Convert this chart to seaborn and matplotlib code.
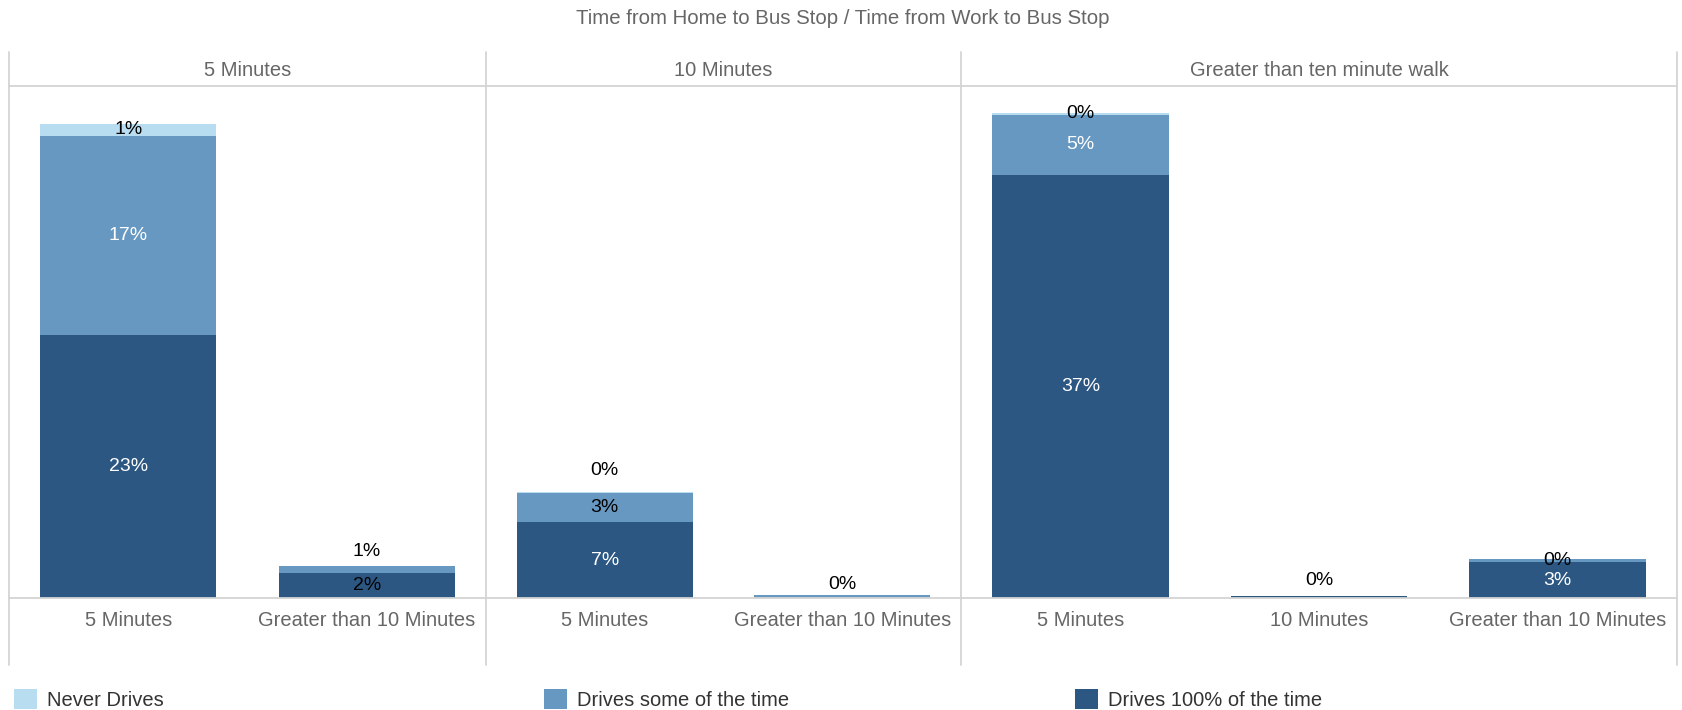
import pandas as pd
import seaborn as sns
import matplotlib.pyplot as plt
from matplotlib.lines import Line2D
from matplotlib.patches import Patch

# data (percent of all respondents)
panels = ["5 Minutes", "10 Minutes", "Greater than ten minute walk"]
panel_of_bar = ["5 Minutes", "5 Minutes", "10 Minutes", "10 Minutes",
                "Greater than ten minute walk", "Greater than ten minute walk",
                "Greater than ten minute walk"]
work_time = ["5 Minutes", "Greater than 10 Minutes", "5 Minutes", "Greater than 10 Minutes",
             "5 Minutes", "10 Minutes", "Greater than 10 Minutes"]
never_drives = [1.05, 0.0, 0.12, 0.0, 0.15, 0.0, 0.0]
drives_some = [17.35, 0.58, 2.53, 0.22, 5.3, 0.0, 0.32]
drives_always = [23.0, 2.2, 6.6, 0.0, 36.9, 0.15, 3.1]
series_names = ["Never Drives", "Drives some of the time", "Drives 100% of the time"]

df = pd.DataFrame({"panel": panel_of_bar, "work": work_time,
                   "never": never_drives, "some": drives_some, "always": drives_always})
df["cum_some"] = df["always"] + df["some"]
df["total"] = df["cum_some"] + df["never"]

colors = {"never": "#b9ddf0", "some": "#6798c1", "always": "#2c5782"}
grid_col = "#d4d4d4"
txt_col = "#666666"

sns.set_style("white")
plt.rcParams["font.family"] = ["Liberation Sans", "DejaVu Sans"]

W, H = 1683, 710
fig = plt.figure(figsize=(W / 100, H / 100), dpi=100)

def fx(px):
    return px / W

def fy(py):
    return 1 - py / H

# panel edges in pixels
bounds = [9, 486, 961, 1677]
top_line, head_line, base_line, bottom_line = 52, 86, 598, 665
ymax = 44.7

# labels that sit above the bar instead of inside the segment (pixel offset)
above = {(1, "some"): 15, (2, "never"): 22, (3, "some"): 11, (5, "always"): 16}

for k, p in enumerate(panels):
    sub = df[df.panel == p].reset_index()
    n = len(sub)
    x0, x1 = bounds[k], bounds[k + 1]
    ax = fig.add_axes([fx(x0), fy(base_line), (x1 - x0) / W, (base_line - head_line) / H])
    order = list(sub["work"])
    for col, key in [("total", "never"), ("cum_some", "some"), ("always", "always")]:
        sns.barplot(data=sub, x="work", y=col, order=order, color=colors[key],
                    saturation=1, width=0.74, errorbar=None, linewidth=0, ax=ax)
    ax.set_ylim(0, ymax)
    ax.set_xlim(-0.5, n - 0.5)
    ax.set_yticks([])
    ax.set_xlabel("")
    ax.set_ylabel("")
    for s in ax.spines.values():
        s.set_visible(False)
    ax.tick_params(axis="x", length=0, pad=9, labelsize=14.5, labelcolor=txt_col)
    ax.set_xticks([i + 0.5 for i in range(n - 1)], minor=True)
    ax.tick_params(axis="x", which="minor", length=8, color="#ebebeb", width=1)

    for i, row in sub.iterrows():
        bar_id = row["index"]
        bottom = 0
        for key in ["always", "some", "never"]:
            v = row[key]
            if v > 0:
                lab = f"{v:.0f}%"
                c = "white" if v >= 3 else "black"
                if (bar_id, key) in above:
                    ax.annotate(lab, (i, row["total"]), xytext=(0, above[(bar_id, key)]),
                                textcoords="offset pixels", ha="center", va="center",
                                fontsize=14, color="black")
                else:
                    ax.text(i, bottom + v / 2, lab, ha="center", va="center",
                            fontsize=14, color=c)
            bottom += v

    fig.text(fx((x0 + x1) / 2), fy(70), p, ha="center", va="center",
             fontsize=14.5, color=txt_col)

for b in bounds:
    fig.add_artist(Line2D([fx(b), fx(b)], [fy(top_line), fy(bottom_line)],
                          color=grid_col, lw=1.3))
for yy in [head_line, base_line]:
    fig.add_artist(Line2D([fx(bounds[0]), fx(bounds[-1])], [fy(yy), fy(yy)],
                          color=grid_col, lw=1.3))

fig.text(fx(843), fy(19), "Time from Home to Bus Stop / Time from Work to Bus Stop",
         ha="center", va="center", fontsize=14.7, color=txt_col)

for name, key, xpos in zip(series_names, ["never", "some", "always"], [14, 544, 1075]):
    fig.legend(handles=[Patch(facecolor=colors[key], edgecolor="none", label=name)],
               loc="lower left", bbox_to_anchor=(fx(xpos), 0), frameon=False,
               fontsize=14.5, handlelength=1.15, handleheight=1.1, handletextpad=0.5,
               borderpad=0, borderaxespad=0, labelcolor="#333333")

fig.savefig("out.png", dpi=100)
